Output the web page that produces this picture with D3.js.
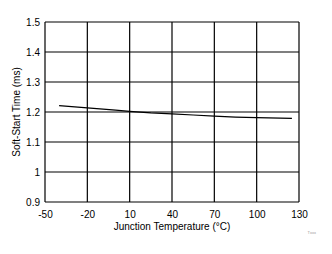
<!DOCTYPE html>
<html>
<head>
<meta charset="utf-8">
<script src="https://cdn.jsdelivr.net/npm/d3@7"></script>
<style>
  body { margin: 0; background: #fff; }
  text { font-family: "Liberation Sans", Arial, sans-serif; }
</style>
</head>
<body>
<div class="chart"></div>
<script>
// junction temperature (C) vs soft-start time (ms)
var temps = [-40, -20, 0, 10, 25, 40, 55, 70, 85, 100, 125];
var times = [1.221, 1.214, 1.206, 1.202, 1.197, 1.194, 1.190, 1.186, 1.183, 1.181, 1.179];
var xTicks = [-50, -20, 10, 40, 70, 100, 130];
var yTicks = [0.9, 1, 1.1, 1.2, 1.3, 1.4, 1.5];

var W = 332, H = 254;
var margin = {top: 22, right: 33, bottom: 52, left: 45},
  width = W - margin.left - margin.right,
  height = H - margin.top - margin.bottom;

var svg = d3.select(".chart").append("svg")
  .attr("width", W)
  .attr("height", H);

var g = svg.append("g")
  .attr("transform", "translate(" + margin.left + "," + margin.top + ")");

var x = d3.scaleLinear().domain([-50, 130]).range([0, width]);
var y = d3.scaleLinear().domain([0.9, 1.5]).range([height, 0]);

// grid
g.selectAll(".vgrid").data(xTicks).enter().append("line")
  .attr("x1", d => x(d)).attr("x2", d => x(d))
  .attr("y1", 0).attr("y2", height)
  .attr("stroke", "#000").attr("stroke-width", 1.2);
g.selectAll(".hgrid").data(yTicks).enter().append("line")
  .attr("x1", 0).attr("x2", width)
  .attr("y1", d => y(d)).attr("y2", d => y(d))
  .attr("stroke", "#000").attr("stroke-width", 1.2);

// axes (labels only), plain hyphen for negatives
var xAxis = d3.axisBottom(x).tickValues(xTicks).tickSize(0).tickPadding(9)
  .tickFormat(d => String(d));
var yAxis = d3.axisLeft(y).tickValues(yTicks).tickSize(0).tickPadding(5)
  .tickFormat(d => String(d));

g.append("g").attr("transform", "translate(0," + height + ")").call(xAxis)
  .call(a => a.select(".domain").remove())
  .selectAll("text").style("font-size", "10px").attr("fill", "#000");
g.append("g").call(yAxis)
  .call(a => a.select(".domain").remove())
  .selectAll("text").style("font-size", "10px").attr("fill", "#000");

// data line
var line = d3.line().x((d, i) => x(temps[i])).y(d => y(d));
g.append("path").datum(times)
  .attr("d", line)
  .attr("fill", "none")
  .attr("stroke", "#000")
  .attr("stroke-width", 1.2);

// titles
svg.append("text")
  .attr("x", margin.left + width / 2)
  .attr("y", 230)
  .attr("text-anchor", "middle")
  .style("font-size", "10px")
  .text("Junction Temperature (\u00B0C)");

svg.append("text")
  .attr("transform", "translate(20," + (margin.top + height / 2) + ") rotate(-90)")
  .attr("text-anchor", "middle")
  .style("font-size", "10px")
  .text("Soft-Start Time (ms)");

svg.append("text")
  .attr("x", 316)
  .attr("y", 234)
  .attr("text-anchor", "end")
  .style("font-size", "4px")
  .attr("fill", "#999")
  .text("Txxx");
</script>
</body>
</html>
